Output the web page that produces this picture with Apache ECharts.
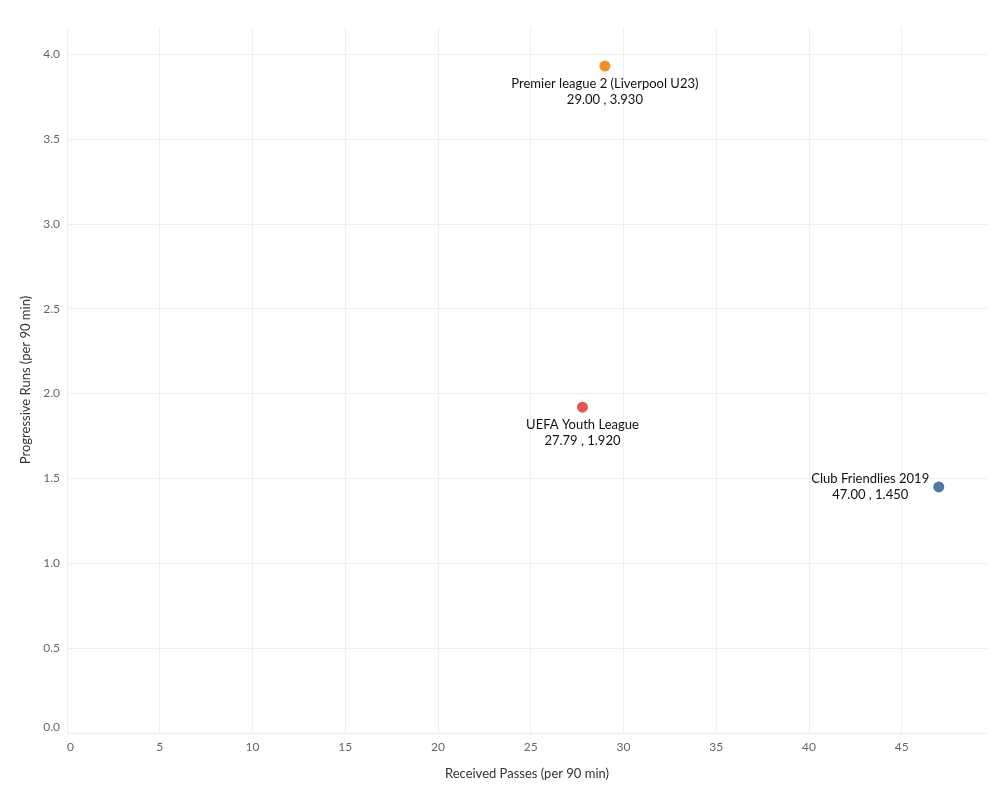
<!DOCTYPE html>
<html>
<head>
<meta charset="utf-8">
<script src="https://cdn.jsdelivr.net/npm/echarts@6/dist/echarts.min.js"></script>
<style>
html,body{margin:0;padding:0;background:#fff;}
#chart{width:1000px;height:800px;}
</style>
</head>
<body>
<div id="chart"></div>
<script>
const competitions = ['Premier league 2 (Liverpool U23)', 'UEFA Youth League', 'Club Friendlies 2019'];
const receivedPasses = [29.00, 27.79, 47.00];
const progressiveRuns = [3.930, 1.920, 1.450];
const colors = ['#f28e2b', '#e15759', '#4e79a7'];

const labelStyles = [
  {position: 'bottom', distance: 4},
  {position: 'bottom', distance: 4},
  {position: 'left', distance: 5, align: 'center', offset: [-58, 0]}
];

const font = 'Lato, "Open Sans", sans-serif';

const data = competitions.map((name, i) => ({
  name: name,
  value: [receivedPasses[i], progressiveRuns[i]],
  itemStyle: {color: colors[i], opacity: 1},
  label: Object.assign({
    show: true,
    formatter: name + '\n' + receivedPasses[i].toFixed(2) + ' , ' + progressiveRuns[i].toFixed(3),
    color: '#111',
    fontSize: 13,
    fontFamily: font,
    lineHeight: 16,
    align: 'center'
  }, labelStyles[i])
}));

const chart = echarts.init(document.getElementById('chart'));
chart.setOption({
  animation: false,
  grid: {left: 67, right: 13, top: 27, bottom: 67, containLabel: false},
  xAxis: {
    type: 'value', min: 0, max: 49.6, interval: 5,
    name: 'Received Passes (per 90 min)', nameLocation: 'middle', nameGap: 34,
    nameTextStyle: {color: '#333', fontSize: 13, fontFamily: font},
    axisLine: {show: false}, axisTick: {show: false},
    axisLabel: {color: '#666', fontSize: 12, fontFamily: font, margin: 8, showMaxLabel: false, alignMinLabel: 'left'},
    splitLine: {show: true, showMaxLine: false, lineStyle: {color: '#eeeeee', width: 1}}
  },
  yAxis: {
    type: 'value', min: 0, max: 4.16, interval: 0.5,
    name: 'Progressive Runs (per 90 min)', nameLocation: 'middle', nameGap: 30,
    nameTextStyle: {color: '#333', fontSize: 13, fontFamily: font},
    axisLine: {show: false}, axisTick: {show: false},
    axisLabel: {color: '#666', fontSize: 12, fontFamily: font, margin: 7, showMaxLabel: false,
      verticalAlignMinLabel: 'bottom', formatter: v => v.toFixed(1)},
    splitLine: {show: true, showMaxLine: false, lineStyle: {color: '#eeeeee', width: 1}}
  },
  series: [{
    type: 'scatter',
    symbolSize: 11,
    data: data
  }]
});
</script>
</body>
</html>
